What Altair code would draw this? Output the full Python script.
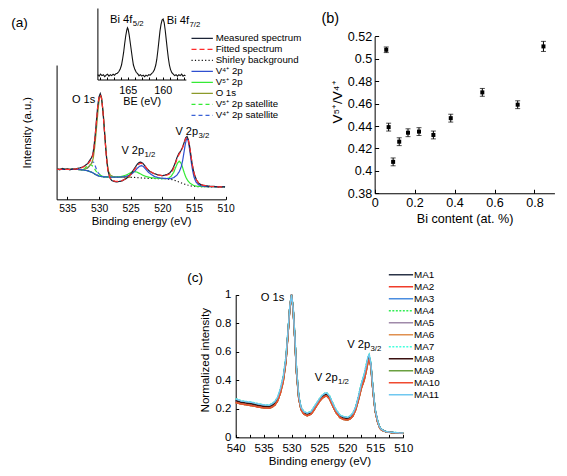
import altair as alt
import pandas as pd

FONT = "Liberation Sans"
W, H = 551, 460
KX, KY = W / 567, H / 476


def px(v):
    return round(v * KX, 2)


def py(v):
    return round(v * KY, 2)


# ================= Panel (a): V 2p / O 1s fit =================
a_series = ["Measured spectrum", "Fitted spectrum", "Shirley background",
            "V⁴⁺ 2p", "V⁵⁺ 2p", "O 1s", "V⁵⁺ 2p satellite", "V⁴⁺ 2p satellite"]
a_colors = ["#1b2336", "#ff2b2b", "#111111", "#2f4fd0", "#35ea35", "#8c9a2a", "#35ea35", "#3a62d6"]
a_dashes = [[1, 0], [5, 3], [1.2, 2.2], [1, 0], [1, 0], [1, 0], [4, 3], [4, 3]]

a_measured = [[536.6, 30.5], [536.2, 29.5], [535.8, 31], [535.4, 30], [535.0, 30.5], [534.6, 29.5],
              [534.2, 30.5], [533.8, 30], [533.4, 31], [533.0, 31.5], [532.6, 32.5], [532.2, 34],
              [531.8, 36], [531.5, 39], [531.2, 42], [531.0, 45], [530.8, 53], [530.6, 66],
              [530.4, 81], [530.2, 96], [530.0, 105], [529.8, 108.5], [529.6, 104], [529.4, 92],
              [529.2, 75], [529.0, 57], [528.8, 41], [528.6, 29], [528.3, 21.5], [528.0, 18.5],
              [527.6, 17.5], [527.2, 17], [526.8, 17.5], [526.4, 18], [526.0, 19.5], [525.6, 21],
              [525.2, 23.5], [524.8, 27], [524.4, 31], [524.0, 35], [523.7, 37], [523.4, 37.5],
              [523.1, 36.5], [522.8, 34], [522.4, 30.5], [522.0, 28], [521.6, 26.5], [521.2, 25.5],
              [520.8, 24.5], [520.4, 24], [520.0, 23.5], [519.6, 24], [519.2, 25], [518.8, 26.5],
              [518.4, 30], [518.0, 36], [517.7, 42], [517.4, 46.5], [517.1, 49], [516.8, 53],
              [516.5, 59], [516.3, 63], [516.1, 64], [515.9, 61], [515.7, 54], [515.5, 45],
              [515.3, 36], [515.1, 29], [514.9, 24], [514.6, 19], [514.3, 16], [514.0, 14.5],
              [513.5, 13.5], [513.0, 13], [512.5, 12.5], [512.0, 12.5], [511.5, 12], [511.0, 12],
              [510.5, 12], [510.1, 12]]
a_fitted = [[536.6, 30], [535.5, 30], [534.5, 30], [533.5, 30.5], [532.8, 31.5], [532.2, 33.5],
            [531.7, 36], [531.3, 39.5], [531.0, 44], [530.8, 52], [530.6, 65], [530.4, 80],
            [530.2, 95], [530.0, 104.5], [529.8, 107.5], [529.6, 103.5], [529.4, 91.5], [529.2, 74.5],
            [529.0, 56.5], [528.8, 40.5], [528.6, 29], [528.3, 21.5], [528.0, 19], [527.5, 17.8],
            [527.0, 17.5], [526.5, 18], [526.0, 19.5], [525.5, 21.5], [525.0, 24.5], [524.5, 29],
            [524.0, 33.5], [523.7, 35.5], [523.4, 36.5], [523.1, 35.5], [522.7, 33], [522.3, 30],
            [521.8, 27.5], [521.3, 25.5], [520.8, 24.3], [520.3, 23.7], [519.8, 23.5], [519.3, 24],
            [518.8, 25.5], [518.4, 28.5], [518.0, 34.5], [517.7, 40.5], [517.4, 45], [517.1, 48.5],
            [516.8, 52.5], [516.5, 58.5], [516.3, 62], [516.1, 63], [515.9, 60.5], [515.7, 54],
            [515.5, 45], [515.3, 36], [515.1, 29], [514.9, 24], [514.6, 19], [514.3, 16],
            [514.0, 14.5], [513.5, 13.5], [512.5, 12.5], [511.5, 12], [510.1, 12]]
a_shirley = [[536.6, 30], [534.0, 30], [533.0, 29.8], [532.3, 29.3], [531.6, 28.2], [531.0, 26.5],
             [530.5, 24.5], [530.0, 23], [529.3, 22.3], [528.0, 22], [526.0, 21.9], [524.5, 21.7],
             [523.5, 21.2], [522.5, 20.8], [521.0, 20.5], [519.5, 20.3], [518.5, 19.5], [517.8, 18],
             [517.2, 16.5], [516.6, 15], [516.0, 13.8], [515.4, 12.8], [514.5, 12.2], [513.0, 12],
             [510.1, 12]]
a_v4 = [[536.6, 30], [534.0, 30], [533.0, 29.8], [532.3, 29.3], [531.6, 28.2], [531.0, 26.5],
        [530.5, 24.5], [530.0, 23], [529.3, 22.3], [528.0, 22], [527.0, 22], [526.0, 22.3],
        [525.3, 23.5], [524.8, 25.5], [524.3, 28.5], [523.9, 31.5], [523.6, 33.2], [523.3, 33.8],
        [523.0, 33], [522.6, 30], [522.2, 27], [521.7, 24.5], [521.2, 22.5], [520.5, 21.2],
        [519.5, 20.6], [518.7, 20.3], [518.2, 21.5], [517.7, 24], [517.3, 28], [517.0, 33],
        [516.8, 39], [516.6, 47], [516.4, 55], [516.25, 60], [516.1, 62], [515.95, 60.5],
        [515.8, 55], [515.6, 46], [515.4, 36], [515.2, 28], [515.0, 22], [514.7, 17],
        [514.3, 14.2], [513.8, 12.8], [513.0, 12.2], [510.1, 12]]
a_v5 = [[536.6, 30], [534.0, 30], [533.0, 29.8], [532.3, 29.3], [531.6, 28.2], [531.0, 26.5],
        [530.5, 24.5], [530.0, 23], [529.3, 22.3], [528.0, 22], [527.0, 22.2], [526.2, 23],
        [525.6, 24.5], [525.1, 26.3], [524.7, 27.5], [524.4, 27.8], [524.0, 27.2], [523.6, 25.8],
        [523.1, 24], [522.5, 22.5], [521.7, 21.3], [520.5, 20.6], [519.5, 20.4], [519.0, 21],
        [518.6, 23], [518.2, 27], [517.9, 32], [517.6, 36.5], [517.35, 38.5], [517.1, 37],
        [516.85, 33], [516.6, 27.5], [516.3, 22], [516.0, 18.5], [515.6, 15.5], [515.1, 13.5],
        [514.5, 12.5], [513.5, 12.1], [510.1, 12]]
a_o1s = [[536.6, 30], [534.0, 30], [533.0, 29.8], [532.5, 29.8], [532.0, 30.8], [531.7, 32.5],
         [531.4, 34.5], [531.1, 37], [530.9, 42], [530.7, 52], [530.5, 65], [530.3, 80],
         [530.1, 95], [529.95, 103], [529.8, 107], [529.65, 105], [529.5, 98], [529.3, 85],
         [529.1, 67], [528.9, 50], [528.7, 36], [528.5, 28], [528.2, 24], [527.8, 22.5],
         [527.0, 22], [525.0, 21.9]]
a_v5_sat = [[533.5, 30], [533.0, 29.9], [532.6, 30.3], [532.2, 31.5], [531.9, 33], [531.6, 34.5],
            [531.35, 35], [531.1, 34], [530.8, 31.5], [530.5, 28.5], [530.1, 25.5], [529.7, 23.5],
            [529.2, 22.5], [528.5, 22]]
a_v4_sat = [[533.0, 29.8], [532.5, 29.6], [532.1, 30.2], [531.8, 31.5], [531.5, 33.5], [531.25, 36],
            [531.05, 38], [530.85, 37.5], [530.65, 34.5], [530.4, 30], [530.1, 26], [529.7, 23.5],
            [529.2, 22.4], [528.5, 22]]

a_curves = {"Measured spectrum": a_measured, "Fitted spectrum": a_fitted,
            "Shirley background": a_shirley, "V⁴⁺ 2p": a_v4, "V⁵⁺ 2p": a_v5, "O 1s": a_o1s,
            "V⁵⁺ 2p satellite": a_v5_sat, "V⁴⁺ 2p satellite": a_v4_sat}
a_draw_order = ["Shirley background", "V⁴⁺ 2p satellite", "V⁵⁺ 2p satellite", "O 1s",
                "V⁵⁺ 2p", "V⁴⁺ 2p", "Measured spectrum", "Fitted spectrum"]

# inset: Bi 4f
bi_spectrum = [[169.3, 5], [169.1, 3.5], [168.9, 5.5], [168.7, 4], [168.5, 5], [168.3, 3],
               [168.1, 4.5], [167.9, 5.5], [167.7, 3.5], [167.5, 5], [167.3, 4], [167.1, 5.5],
               [166.9, 4.5], [166.7, 6], [166.5, 6.5], [166.3, 8], [166.1, 10.5], [165.9, 15],
               [165.75, 21], [165.6, 28], [165.45, 37], [165.3, 45], [165.15, 51], [165.05, 53.5],
               [164.95, 52], [164.8, 46], [164.65, 38], [164.5, 30], [164.35, 22], [164.2, 15],
               [164.0, 10.5], [163.8, 7.5], [163.6, 6], [163.4, 4], [163.2, 5], [163.0, 3.5],
               [162.8, 4.5], [162.6, 3], [162.4, 4.5], [162.2, 3.5], [162.0, 5], [161.8, 4.5],
               [161.6, 6], [161.4, 7.5], [161.2, 10], [161.0, 15], [160.85, 21], [160.7, 30],
               [160.55, 40], [160.4, 50], [160.25, 57], [160.1, 61.5], [159.95, 62.5], [159.8, 59],
               [159.65, 51], [159.5, 41], [159.35, 31], [159.2, 22], [159.05, 15], [158.9, 10.5],
               [158.7, 7], [158.5, 5.5], [158.3, 4], [158.1, 5], [157.9, 3.5], [157.7, 5],
               [157.5, 4], [157.3, 5.5], [157.1, 3.5], [156.9, 4.5], [156.75, 4]]

# ================= Panel (b): V5+/V4+ ratio =================
b_bi = [0.058, 0.070, 0.0925, 0.123, 0.167, 0.222, 0.294, 0.381, 0.539, 0.716, 0.845]
b_ratio = [0.508, 0.439, 0.408, 0.426, 0.434, 0.435, 0.432, 0.447, 0.470, 0.459, 0.511]
b_err = [0.0025, 0.0035, 0.0035, 0.0035, 0.0035, 0.0035, 0.0035, 0.0035, 0.0035, 0.0035, 0.0045]

# ================= Panel (c): normalized spectra =================
c_names = ["MA1", "MA2", "MA3", "MA4", "MA5", "MA6", "MA7", "MA8", "MA9", "MA10", "MA11"]
c_colors = ["#2b3448", "#f03c2a", "#4a8de0", "#33ee55", "#a08aaa", "#e09050",
            "#44ffdd", "#3a1010", "#6aa040", "#f04a30", "#70c8f0"]
c_dashes = [[1, 0], [1, 0], [1, 0], [2, 1.5], [1, 0], [1, 0], [2, 1.5], [1, 0], [1, 0], [1, 0], [1, 0]]
c_energy = [540, 539, 538, 537, 536, 535, 534, 533.5, 533, 532.5, 532, 531.5, 531, 530.6,
            530.3, 530.0, 529.7, 529.4, 529.1, 528.7, 528.3, 527.8, 527.2, 526.5, 526, 525.5,
            525, 524.5, 524, 523.7, 523.2, 522.5, 522, 521.3, 520.7, 520, 519.5, 519, 518.5,
            518, 517.5, 517, 516.6, 516.3, 516.1, 515.8, 515.5, 515.2, 515, 514.6, 514.3, 514,
            513.5, 513, 512, 511, 510]
c_upper = [0.27, 0.255, 0.25, 0.245, 0.235, 0.228, 0.225, 0.235, 0.25, 0.28, 0.34, 0.42, 0.56, 0.76,
           0.92, 1.0, 0.90, 0.70, 0.47, 0.29, 0.21, 0.18, 0.17, 0.18, 0.21, 0.24,
           0.27, 0.295, 0.31, 0.312, 0.29, 0.23, 0.19, 0.155, 0.145, 0.14, 0.148, 0.17, 0.215,
           0.29, 0.375, 0.44, 0.51, 0.565, 0.58, 0.52, 0.38, 0.26, 0.19, 0.12, 0.08, 0.06,
           0.047, 0.04, 0.035, 0.032, 0.03]
c_middle = [0.258, 0.245, 0.24, 0.234, 0.224, 0.218, 0.215, 0.224, 0.238, 0.268, 0.325, 0.405, 0.545, 0.75,
            0.915, 1.0, 0.895, 0.69, 0.46, 0.28, 0.203, 0.172, 0.161, 0.172, 0.2, 0.231,
            0.261, 0.285, 0.299, 0.301, 0.28, 0.22, 0.181, 0.147, 0.136, 0.131, 0.139, 0.16, 0.205,
            0.278, 0.36, 0.42, 0.49, 0.548, 0.562, 0.51, 0.37, 0.252, 0.185, 0.115, 0.078, 0.058,
            0.046, 0.039, 0.034, 0.031, 0.029]
c_lower = [0.245, 0.235, 0.228, 0.222, 0.213, 0.207, 0.204, 0.212, 0.226, 0.255, 0.31, 0.39, 0.53, 0.74,
           0.91, 1.0, 0.89, 0.68, 0.45, 0.27, 0.195, 0.163, 0.152, 0.163, 0.19, 0.222,
           0.252, 0.275, 0.288, 0.29, 0.27, 0.21, 0.172, 0.138, 0.126, 0.122, 0.13, 0.15, 0.195,
           0.265, 0.345, 0.40, 0.47, 0.53, 0.545, 0.50, 0.36, 0.245, 0.18, 0.11, 0.075, 0.055,
           0.045, 0.038, 0.033, 0.03, 0.028]
c_profile_of = {"MA1": c_middle, "MA2": c_lower, "MA3": c_middle, "MA4": c_upper, "MA5": c_middle,
                "MA6": c_lower, "MA7": c_upper, "MA8": c_middle, "MA9": c_lower, "MA10": c_lower,
                "MA11": c_upper}
assert len(c_energy) == len(c_upper) == len(c_middle) == len(c_lower)

# ================= tables =================
a_df = pd.DataFrame([{"series": s, "E": e, "I": i} for s in a_draw_order for e, i in a_curves[s]])
bi_df = pd.DataFrame(bi_spectrum, columns=["E", "I"])
b_df = pd.DataFrame({"bi": b_bi, "ratio": b_ratio, "err": b_err})
b_df["lo"] = b_df["ratio"] - b_df["err"]
b_df["hi"] = b_df["ratio"] + b_df["err"]
c_df = pd.DataFrame([{"sample": n, "E": e, "v": v}
                     for n in c_names for e, v in zip(c_energy, c_profile_of[n])])

# ================= scales (layout in reference pixels) =================
A_X = dict(domain=[536.7, 510], range=[px(50), px(224)], nice=False, zero=False)
A_Y = dict(domain=[-1, 138], range=[py(198), py(59)], nice=False, zero=False)
I_X = dict(domain=[169.35, 156.7], range=[px(92), px(183)], nice=False, zero=False)
I_Y = dict(domain=[0, 74], range=[py(74), py(0)], nice=False, zero=False)
B_X = dict(domain=[0, 0.9], range=[px(377.3), px(562.3)], nice=False, zero=False)
B_Y = dict(domain=[0.38, 0.52], range=[py(191.7), py(29.3)], nice=False, zero=False)
C_X = dict(domain=[540, 510], range=[px(234.3), px(406.7)], nice=False, zero=False)
C_Y = dict(domain=[0, 1], range=[py(444.3), py(296.7)], nice=False, zero=False)


def ticks_in_x(yref, values, size):
    return alt.Axis(orient="top", offset=-py(yref), values=values, labels=False, domain=False,
                    ticks=True, tickSize=size, title=None, grid=False)


def ticks_in_y(xref, values, size):
    return alt.Axis(orient="right", offset=px(xref) - W, values=values, labels=False, domain=False,
                    ticks=True, tickSize=size, title=None, grid=False)


def tick_layer(df, xf, yf, xs, ys, xaxis, yaxis):
    return alt.Chart(df).mark_point(opacity=0, size=1).encode(
        x=alt.X(xf, scale=alt.Scale(**xs), axis=xaxis),
        y=alt.Y(yf, scale=alt.Scale(**ys), axis=yaxis))


def text_layer(labels, xs_vals, ys_vals, xs, ys, size, align="left", dx=0, dy=0):
    df = pd.DataFrame({"label": labels, "x": xs_vals, "y": ys_vals})
    return alt.Chart(df).mark_text(font=FONT, fontSize=size, align=align, baseline="middle",
                                   color="black", dx=dx, dy=dy).encode(
        x=alt.X("x:Q", scale=alt.Scale(**xs), axis=None),
        y=alt.Y("y:Q", scale=alt.Scale(**ys), axis=None),
        text="label:N")


layers = []

# ---- (a) main ----
A_ROW = round(11.2 * KY, 2)
a_legend = alt.Legend(orient="none", legendX=px(188), legendY=round(py(31.5) - A_ROW / 2, 2),
                      title=None, symbolType="stroke", symbolSize=round((22 * KX) ** 2, 1),
                      symbolStrokeWidth=1.2, labelFontSize=9.7, labelOffset=px(2),
                      clipHeight=A_ROW, rowPadding=0, padding=0, labelLimit=300, labelFont=FONT)
layers.append(alt.Chart(a_df).mark_line(strokeWidth=1.2).encode(
    x=alt.X("E:Q", scale=alt.Scale(**A_X),
            axis=alt.Axis(orient="bottom", offset=py(198) - H, values=[535, 530, 525, 520, 515, 510],
                          title="Binding energy (eV)", ticks=False, tickSize=0, labelPadding=py(4),
                          titlePadding=py(2), labelFontSize=10.3, titleFontSize=11.3,
                          labelFlush=False, labelOverlap=False)),
    y=alt.Y("I:Q", scale=alt.Scale(**A_Y),
            axis=alt.Axis(orient="left", offset=-px(50), labels=False, ticks=False, tickSize=0,
                          title="Intensity (a.u.)", titlePadding=px(25), titleFontSize=11.3)),
    color=alt.Color("series:N", scale=alt.Scale(domain=a_series, range=a_colors), legend=a_legend),
    strokeDash=alt.StrokeDash("series:N", scale=alt.Scale(domain=a_series, range=a_dashes),
                              legend=a_legend),
))
layers.append(tick_layer(a_df, "E:Q", "I:Q", A_X, A_Y,
                         ticks_in_x(198, [535, 530, 525, 520, 515, 510], 3), None))
layers.append(text_layer(["O 1s", "V 2p", "V 2p"], [534.28, 526.46, 517.93], [102, 49, 69],
                         A_X, A_Y, 11))
layers.append(text_layer(["1/2", "3/2"], [526.46, 517.93], [49, 69], A_X, A_Y, 7.8, dx=23, dy=4))
layers.append(text_layer(["(a)"], [542.56], [182], A_X, A_Y, 13.6, align="center"))

# ---- (a) inset ----
layers.append(alt.Chart(bi_df).mark_line(color="#111111", strokeWidth=1.1).encode(
    x=alt.X("E:Q", scale=alt.Scale(**I_X),
            axis=alt.Axis(orient="bottom", offset=py(74) - H, values=[165, 160], title="BE (eV)",
                          ticks=False, tickSize=0, labelPadding=py(5), titlePadding=py(0.5),
                          labelFontSize=10.8, titleFontSize=10.8, labelFlush=False,
                          labelOverlap=False)),
    y=alt.Y("I:Q", scale=alt.Scale(**I_Y),
            axis=alt.Axis(orient="left", offset=-px(92), labels=False, ticks=False, tickSize=0,
                          title=None)),
))
layers.append(tick_layer(bi_df, "E:Q", "I:Q", I_X, I_Y,
                         ticks_in_x(74, [169, 168, 167, 166, 165, 164, 163, 162, 161, 160, 159, 158, 157], 2.5),
                         None))
layers.append(text_layer(["Bi 4f", "Bi 4f"], [167.54, 159.44], [61.5, 61], I_X, I_Y, 11.2))
layers.append(text_layer(["5/2", "7/2"], [167.54, 159.44], [61.5, 61], I_X, I_Y, 7.8, dx=22.8, dy=4))

# ---- (b) ----
layers.append(alt.Chart(b_df).mark_rule(color="black", strokeWidth=1).encode(
    x=alt.X("bi:Q", scale=alt.Scale(**B_X), axis=None),
    y=alt.Y("lo:Q", scale=alt.Scale(**B_Y), axis=None),
    y2="hi:Q"))
layers.append(alt.Chart(b_df).mark_tick(orient="horizontal", size=5, thickness=1, color="black").encode(
    x=alt.X("bi:Q", scale=alt.Scale(**B_X), axis=None),
    y=alt.Y("lo:Q", scale=alt.Scale(**B_Y), axis=None)))
layers.append(alt.Chart(b_df).mark_tick(orient="horizontal", size=5, thickness=1, color="black").encode(
    x=alt.X("bi:Q", scale=alt.Scale(**B_X), axis=None),
    y=alt.Y("hi:Q", scale=alt.Scale(**B_Y), axis=None)))
b_yticks = [0.38, 0.4, 0.42, 0.44, 0.46, 0.48, 0.5, 0.52]
b_xticks = [0, 0.2, 0.4, 0.6, 0.8]
layers.append(alt.Chart(b_df).mark_square(size=16, color="black", opacity=1).encode(
    x=alt.X("bi:Q", scale=alt.Scale(**B_X),
            axis=alt.Axis(orient="bottom", offset=py(191.7) - H, values=b_xticks, format="~g",
                          title="Bi content (at. %)", ticks=False, tickSize=0, labelPadding=py(3),
                          titlePadding=py(3.5), labelFontSize=12.6, titleFontSize=12.6,
                          labelFlush=False, labelOverlap=False)),
    y=alt.Y("ratio:Q", scale=alt.Scale(**B_Y),
            axis=alt.Axis(orient="left", offset=-px(377.3), values=b_yticks, format="~g",
                          title="V⁵⁺/V⁴⁺", ticks=False, tickSize=0, labelPadding=px(3),
                          titlePadding=px(3), titleY=py(96.7), labelFontSize=12.6,
                          titleFontSize=13.5, labelOverlap=False)),
))
layers.append(tick_layer(b_df, "bi:Q", "ratio:Q", B_X, B_Y,
                         ticks_in_x(191.7, b_xticks, 4), ticks_in_y(377.3, b_yticks, 4)))
layers.append(text_layer(["(b)"], [-0.222], [0.5352], B_X, B_Y, 14.5, align="center"))

# ---- (c) ----
C_ROW = 11.5
c_legend = alt.Legend(orient="none", legendX=px(391), legendY=round(py(276) - C_ROW / 2, 2),
                      title=None, symbolType="stroke", symbolSize=round((25 * KX) ** 2, 1),
                      symbolStrokeWidth=1.5, labelFontSize=9.9, labelOffset=0,
                      clipHeight=C_ROW, rowPadding=0, padding=0, labelLimit=200, labelFont=FONT)
c_yticks = [0, 0.2, 0.4, 0.6, 0.8, 1]
c_xticks = [540, 535, 530, 525, 520, 515, 510]
layers.append(alt.Chart(c_df).mark_line(strokeWidth=1.5).encode(
    x=alt.X("E:Q", scale=alt.Scale(**C_X),
            axis=alt.Axis(orient="bottom", offset=py(444.3) - H, values=c_xticks,
                          title="Binding energy (eV)", ticks=False, tickSize=0, labelPadding=py(5),
                          titlePadding=py(1.5), labelFontSize=11.4, titleFontSize=11.6,
                          labelFlush=False, labelOverlap=False)),
    y=alt.Y("v:Q", scale=alt.Scale(**C_Y),
            axis=alt.Axis(orient="left", offset=-px(234.3), values=c_yticks, format="~g",
                          title="Normalized intensity", ticks=False, tickSize=0,
                          labelPadding=px(5), titlePadding=px(5), titleY=py(364),
                          labelFontSize=11.4, titleFontSize=11.6, labelOverlap=False)),
    color=alt.Color("sample:N", scale=alt.Scale(domain=c_names, range=c_colors), legend=c_legend),
    strokeDash=alt.StrokeDash("sample:N", scale=alt.Scale(domain=c_names, range=c_dashes),
                              legend=c_legend),
))
layers.append(tick_layer(c_df, "E:Q", "v:Q", C_X, C_Y,
                         ticks_in_x(444.3, [540, 537.5, 535, 532.5, 530, 527.5, 525, 522.5, 520,
                                            517.5, 515, 512.5, 510], 3),
                         ticks_in_y(234.3, c_yticks, 3)))
layers.append(text_layer(["O 1s", "V 2p", "V 2p"], [535.53, 525.84, 520.04], [0.978, 0.413, 0.65],
                         C_X, C_Y, 11.2))
layers.append(text_layer(["1/2", "3/2"], [525.84, 520.04], [0.413, 0.65], C_X, C_Y, 7.8,
                         dx=23.3, dy=4))
layers.append(text_layer(["(c)"], [547.27], [1.12], C_X, C_Y, 13.6, align="center"))

chart = alt.layer(*layers).resolve_scale(
    x="independent", y="independent", color="independent", strokeDash="independent"
).properties(
    width=W, height=H, autosize=alt.AutoSizeParams(type="none"), padding=0
).configure_view(stroke=None).configure_axis(
    grid=False, domainColor="black", tickColor="black", labelColor="black", titleColor="black",
    labelFont=FONT, titleFont=FONT, titleFontWeight="normal", domainWidth=1, tickWidth=1
).configure_legend(labelFont=FONT, labelColor="black")

chart.save("out.html", embed_options={"renderer": "svg", "actions": False})
